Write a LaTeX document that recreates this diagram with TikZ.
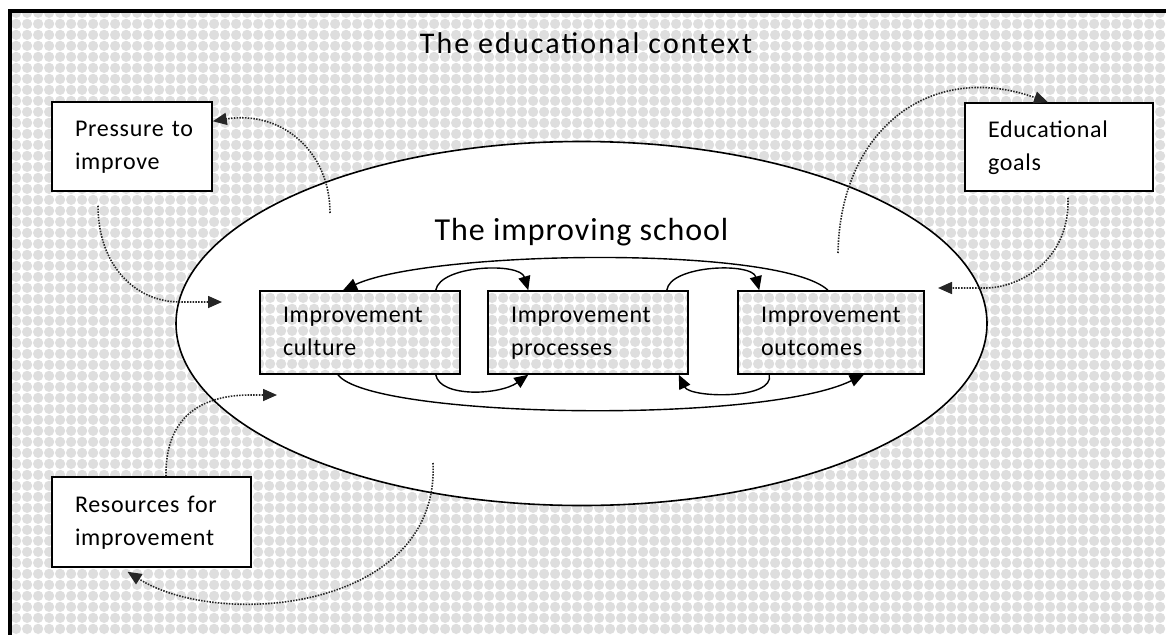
\documentclass[tikz,border=0pt]{standalone}
\usepackage{fontspec}
\setmainfont{Carlito}
\newfontfamily\boxfont[LetterSpace=3]{Carlito}
\newfontfamily\titlefont[LetterSpace=7]{Carlito}
\newfontfamily\schoolfont[LetterSpace=3]{Carlito}
\usetikzlibrary{arrows.meta,patterns,shapes.geometric,calc}
\definecolor{bub}{RGB}{222,222,222}
\pgfdeclarepatternformonly{bubbles}{\pgfqpoint{0pt}{0pt}}{\pgfqpoint{10.6pt}{10.6pt}}{\pgfqpoint{10.6pt}{10.6pt}}{%
  \pgfpathcircle{\pgfqpoint{5.3pt}{5.3pt}}{5.3pt}\pgfusepath{fill}}
\begin{document}
\begin{tikzpicture}[x=1pt,y=-1pt,
  lab/.style={font=\boxfont\fontsize{24}{33}\selectfont, align=left, inner xsep=23pt, inner ysep=0pt, line width=1.5pt, draw, anchor=center},
  outerbox/.style={lab, fill=white},
  innerbox/.style={lab, pattern=bubbles, pattern color=bub, preaction={fill=white}},
  solidarr/.style={line width=1.4pt, -{Triangle[length=14pt,width=12pt]}},
  dotarr/.style={line width=1.6pt, black!85, dash pattern=on 1.5pt off 1.3pt, -{Triangle[length=14pt,width=12pt]}}
]
\useasboundingbox (0,0) rectangle (1166,634);
\clip (0,0) rectangle (1166,634);
\fill[white] (0,0) rectangle (1166,634);
\fill[pattern=bubbles,pattern color=bub] (10,11) rectangle (1180,650);
\draw[line width=4.5pt] (10,650) -- (10,11) -- (1180,11);

\node[font=\titlefont\fontsize{30}{36}\selectfont, anchor=base] (context) at (586,54) {The educational context};

\node[ellipse, draw, line width=1.6pt, fill=white, minimum width=811pt, minimum height=364pt, inner sep=0pt] (school) at (581.5,323.5) {};
\node[font=\schoolfont\fontsize{32}{38}\selectfont, anchor=base] (schooltitle) at (581.5,240) {The improving school};

\node[outerbox, text width=114pt, minimum height=89pt] (pressure) at (132,146.5) {\mbox{Pressure to}\strut\\improve\strut};
\node[outerbox, text width=142pt, minimum height=88pt] (goals) at (1059,147) {Educational\strut\\goals\strut};
\node[outerbox, text width=153pt, minimum height=90pt] (resources) at (151.5,522) {Resources for\strut\\improvement\strut};

\node[innerbox, text width=154pt, minimum height=83pt] (culture) at (360,332.5) {Improvement\strut\\culture\strut};
\node[innerbox, text width=154pt, minimum height=83pt] (processes) at (588,332.5) {Improvement\strut\\processes\strut};
\node[innerbox, text width=140pt, minimum height=83pt] (outcomes) at (831,332.5) {Improvement\strut\\outcomes\strut};

% solid arrows
\draw[solidarr] ([xshift=-3pt]outcomes.north) .. controls (780,245) and (430,250) .. ([xshift=-17pt]culture.north);
\draw[solidarr] ([xshift=-25pt]culture.north east) .. controls (440,265) and (520,262) .. ([xshift=41pt]processes.north west);
\draw[solidarr] ([xshift=-22pt]processes.north east) .. controls (670,265) and (752,262) .. ([xshift=22pt]outcomes.north west);
\draw[solidarr] ([xshift=-22pt]culture.south) .. controls (370,418) and (760,425) .. ([xshift=-61pt]outcomes.south east);
\draw[solidarr] ([xshift=-25pt]culture.south east) .. controls (440,398) and (500,395) .. ([xshift=41pt]processes.south west);
\draw[solidarr] ([xshift=32pt]outcomes.south west) .. controls (775,400) and (690,398) .. ([xshift=-10pt]processes.south east);

% dotted arrows
\coordinate (pA) at (330,213);
\coordinate (pB) at (222,302);
\coordinate (pC) at (838,253);
\coordinate (pD) at (938,288);
\coordinate (pE) at (277,395);
\coordinate (pF) at (433,463);
\draw[dotarr] (pA) .. controls (330,150) and (280,110) .. ([yshift=-20pt]pressure.north east);
\draw[dotarr] ([xshift=-34pt,yshift=-14pt]pressure.south) .. controls (98,265) and (135,302) .. (180,302) -- (pB);
\draw[dotarr] (pC) .. controls (840,130) and (930,60) .. ([xshift=-11pt]goals.north);
\draw[dotarr] ([xshift=9pt,yshift=-6pt]goals.south) .. controls (1070,260) and (1020,288) .. (985,288) -- (pD);
\draw[dotarr] ([xshift=14.5pt]resources.north) .. controls (165,410) and (210,395) .. (250,395) -- (pE);
\draw[dotarr] (pF) .. controls (440,610) and (220,630) .. ([xshift=-24pt,yshift=-4pt]resources.south);
\end{tikzpicture}
\end{document}
